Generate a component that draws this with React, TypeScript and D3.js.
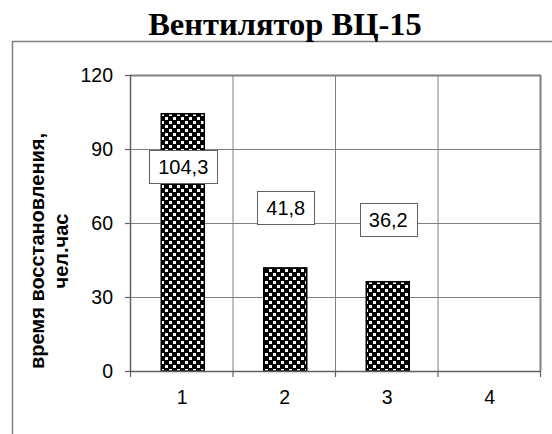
import { useEffect, useRef } from 'react';
import * as d3 from 'd3';

const categories = ['1', '2', '3', '4'];
const values: (number | null)[] = [104.3, 41.8, 36.2, null];
const valueLabels = ['104,3', '41,8', '36,2', ''];
const yTicks = [0, 30, 60, 90, 120];

export default function App() {
  const svgRef = useRef<SVGSVGElement>(null);

  useEffect(() => {
    if (!svgRef.current) return;
    const svg = d3.select(svgRef.current);
    svg.selectAll('*').remove();

    const left = 130, right = 540, top = 75, bottom = 371;

    const x = d3.scaleBand().domain(categories).range([left, right]).paddingInner(0).paddingOuter(0);
    const y = d3.scaleLinear().domain([0, 120]).range([bottom, top]);

    // pattern
    const defs = svg.append('defs');
    const pat = defs.append('pattern')
      .attr('id', 'chk')
      .attr('patternUnits', 'userSpaceOnUse')
      .attr('width', 8).attr('height', 8);
    pat.append('rect').attr('width', 8).attr('height', 8).attr('fill', '#000');
    pat.append('rect').attr('x', 1).attr('y', 1).attr('width', 3).attr('height', 3).attr('fill', '#fff');
    pat.append('rect').attr('x', 5).attr('y', 5).attr('width', 3).attr('height', 3).attr('fill', '#fff');

    svg.append('rect').attr('width', 552).attr('height', 434).attr('fill', '#fff');

    // outer chart frame
    svg.append('rect')
      .attr('x', 12.5).attr('y', 41.5).attr('width', 560).attr('height', 420)
      .attr('fill', 'none').attr('stroke', '#808080').attr('stroke-width', 1.5);

    // title
    svg.append('text')
      .attr('x', 285).attr('y', 35)
      .attr('text-anchor', 'middle')
      .attr('font-family', '"Liberation Serif", "Times New Roman", serif')
      .attr('font-weight', 'bold')
      .attr('font-size', 32.5)
      .text('Вентилятор ВЦ-15');

    // gridlines
    svg.append('g').selectAll('line.h')
      .data(yTicks.slice(1))
      .enter().append('line')
      .attr('x1', left).attr('x2', right)
      .attr('y1', d => y(d) + 0.5).attr('y2', d => y(d) + 0.5)
      .attr('stroke', '#808080').attr('stroke-width', 1);

    const bounds = categories.map(c => x(c) as number).concat([right]);
    svg.append('g').selectAll('line.v')
      .data(bounds.slice(1))
      .enter().append('line')
      .attr('x1', d => d + 0.5).attr('x2', d => d + 0.5)
      .attr('y1', top).attr('y2', bottom)
      .attr('stroke', '#808080').attr('stroke-width', 1);

    // right / top border of plot
    svg.append('line')
      .attr('x1', right + 0.5).attr('x2', right + 0.5).attr('y1', top).attr('y2', bottom)
      .attr('stroke', '#808080').attr('stroke-width', 2);
    svg.append('line')
      .attr('x1', left).attr('x2', right + 1).attr('y1', top + 0.5).attr('y2', top + 0.5)
      .attr('stroke', '#808080').attr('stroke-width', 2);

    // bars
    const bw = 43;
    svg.append('g').selectAll('rect.bar')
      .data(values.map((v, i) => ({ v, c: categories[i] })).filter(d => d.v != null))
      .enter().append('rect')
      .attr('x', d => (x(d.c) as number) + x.bandwidth() / 2 - bw / 2 + 1.5)
      .attr('y', d => y(d.v as number))
      .attr('width', bw)
      .attr('height', d => bottom - y(d.v as number))
      .attr('fill', 'url(#chk)')
      .attr('stroke', '#000')
      .attr('stroke-width', 1.5);

    // axes
    const axisColor = '#606060';
    svg.append('line')
      .attr('x1', left + 0.5).attr('x2', left + 0.5).attr('y1', top).attr('y2', bottom + 1)
      .attr('stroke', axisColor).attr('stroke-width', 1.5);
    svg.append('line')
      .attr('x1', left).attr('x2', right + 1).attr('y1', bottom + 0.5).attr('y2', bottom + 0.5)
      .attr('stroke', axisColor).attr('stroke-width', 1.5);

    const font = '"Liberation Sans", Arial, sans-serif';

    const yg = svg.append('g');
    yg.selectAll('line')
      .data(yTicks)
      .enter().append('line')
      .attr('x1', left - 5).attr('x2', left)
      .attr('y1', d => y(d) + 0.5).attr('y2', d => y(d) + 0.5)
      .attr('stroke', axisColor).attr('stroke-width', 1.2);
    yg.selectAll('text')
      .data(yTicks)
      .enter().append('text')
      .attr('x', 113).attr('y', d => y(d) + 7)
      .attr('text-anchor', 'end')
      .attr('font-family', font).attr('font-size', 19.5)
      .text(d => String(d));

    const xg = svg.append('g');
    xg.selectAll('line')
      .data(bounds)
      .enter().append('line')
      .attr('x1', d => d + 0.5).attr('x2', d => d + 0.5)
      .attr('y1', bottom).attr('y2', bottom + 6)
      .attr('stroke', axisColor).attr('stroke-width', 1.2);
    xg.selectAll('text')
      .data(categories)
      .enter().append('text')
      .attr('x', d => (x(d) as number) + x.bandwidth() / 2 + 1)
      .attr('y', 404)
      .attr('text-anchor', 'middle')
      .attr('font-family', font).attr('font-size', 19.5)
      .text(d => d);

    // data labels (moved manually in the original)
    const labelY = [167, 208, 220, 0];
    const labelDx = [2, 2, 2, 0];
    valueLabels.forEach((lab, i) => {
      if (!lab) return;
      const cx = (x(categories[i]) as number) + x.bandwidth() / 2 + labelDx[i];
      const g = svg.append('g');
      const t = g.append('text')
        .attr('x', cx).attr('y', labelY[i] + 7)
        .attr('text-anchor', 'middle')
        .attr('font-family', font).attr('font-size', 20)
        .text(lab);
      const bb = (t.node() as SVGTextElement).getBBox();
      g.insert('rect', 'text')
        .attr('x', Math.round(bb.x - 9) + 0.5)
        .attr('y', labelY[i] - 17 + 0.5)
        .attr('width', Math.round(bb.width + 18))
        .attr('height', 33)
        .attr('fill', '#fff').attr('stroke', '#606060').attr('stroke-width', 1);
    });

    // y axis title
    const yt = svg.append('text')
      .attr('transform', 'translate(44,251) rotate(-90)')
      .attr('text-anchor', 'middle')
      .attr('font-family', font).attr('font-weight', 'bold').attr('font-size', 20);
    yt.append('tspan').attr('x', 0).attr('dy', 0).text('время восстановления,');
    yt.append('tspan').attr('x', 0).attr('dy', 24).text('чел.час');
  }, []);

  return (
    <svg
      ref={svgRef}
      width={552}
      height={434}
      style={{ position: 'absolute', left: 0, top: 0, display: 'block' }}
    />
  );
}
